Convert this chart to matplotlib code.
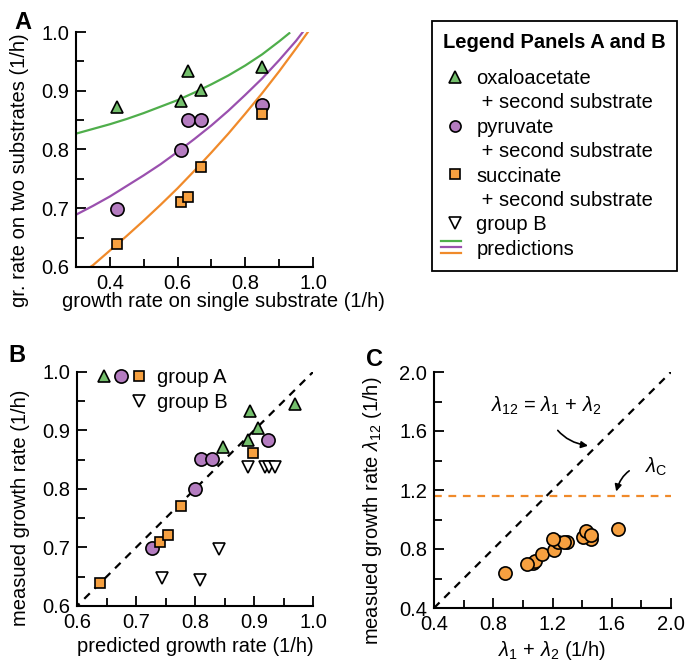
import matplotlib
matplotlib.use("Agg")
from matplotlib import pyplot as plt
from matplotlib.lines import Line2D
from matplotlib.legend_handler import HandlerBase, HandlerTuple
from matplotlib.ticker import MultipleLocator

plt.rcParams['font.family'] = ['Liberation Sans', 'DejaVu Sans']
plt.rcParams['font.size'] = 14.5
plt.rcParams['mathtext.fontset'] = 'custom'
plt.rcParams['mathtext.rm'] = 'Liberation Sans'
plt.rcParams['mathtext.it'] = 'Liberation Sans:italic'
FS = 14.5

# ---- data ----
# panel A: growth on single substrate vs. on two substrates
single_rate = [0.42, 0.61, 0.63, 0.67, 0.85]
oxa_two = [0.872, 0.883, 0.933, 0.902, 0.941]
pyr_two = [0.699, 0.799, 0.850, 0.850, 0.876]
suc_two = [0.639, 0.710, 0.720, 0.770, 0.860]

# prediction curves (panel A)
oxa_curve_x = [0.30, 0.35, 0.40, 0.45, 0.50, 0.55, 0.60, 0.65, 0.70, 0.75, 0.80, 0.85, 0.90, 0.93]
oxa_curve_y = [0.827, 0.835, 0.843, 0.852, 0.862, 0.873, 0.884, 0.897, 0.911, 0.926, 0.943, 0.962, 0.984, 0.998]
pyr_curve_x = [0.30, 0.35, 0.40, 0.45, 0.50, 0.55, 0.60, 0.65, 0.70, 0.75, 0.80, 0.85, 0.90, 0.95, 0.97]
pyr_curve_y = [0.689, 0.704, 0.720, 0.738, 0.756, 0.775, 0.796, 0.818, 0.841, 0.866, 0.893, 0.921, 0.952, 0.985, 1.000]
suc_curve_x = [0.342, 0.35, 0.40, 0.45, 0.50, 0.55, 0.60, 0.65, 0.70, 0.75, 0.80, 0.85, 0.90, 0.95, 0.985]
suc_curve_y = [0.600, 0.603, 0.628, 0.653, 0.679, 0.706, 0.734, 0.764, 0.795, 0.827, 0.861, 0.896, 0.933, 0.972, 1.000]

# panel B: predicted vs measured
oxa_pred = [0.848, 0.889, 0.893, 0.906, 0.969]
oxa_meas = [0.872, 0.884, 0.934, 0.904, 0.945]
pyr_pred = [0.727, 0.800, 0.810, 0.828, 0.924]
pyr_meas = [0.699, 0.800, 0.852, 0.852, 0.884]
suc_pred = [0.639, 0.741, 0.754, 0.777, 0.898]
suc_meas = [0.639, 0.710, 0.721, 0.771, 0.862]
grpB_pred = [0.744, 0.808, 0.841, 0.890, 0.919, 0.926, 0.936]
grpB_meas = [0.648, 0.644, 0.697, 0.838, 0.838, 0.838, 0.838]

# panel C: sum of single rates vs measured
sum_rates = [0.880, 1.065, 1.085, 1.132, 1.300, 1.026, 1.211, 1.240, 1.280, 1.458,
             1.206, 1.404, 1.424, 1.458, 1.645]
meas_rates = [0.640, 0.707, 0.720, 0.769, 0.850, 0.696, 0.796, 0.850, 0.850, 0.870,
              0.866, 0.881, 0.922, 0.893, 0.938]
lambda_c = 1.16
diag = [0.4, 2.0]

# colours
g_fill, g_line = '#74bf6c', '#4fae4b'
p_fill, p_line = '#b47cc0', '#9a50ae'
o_fill, o_line = '#f6a040', '#f08a2a'


class ThreeLines(HandlerBase):
    def create_artists(self, legend, orig_handle, xdescent, ydescent,
                       width, height, fontsize, trans):
        arts = []
        for i, c in enumerate([g_line, p_line, o_line]):
            y = height * (0.95 - 0.4 * i) - ydescent
            arts.append(Line2D([-xdescent - 2, -xdescent + width * 0.75], [y, y],
                               color=c, lw=1.6, transform=trans))
        return arts


def style(ax):
    for s in ['top', 'right']:
        ax.spines[s].set_visible(False)
    for s in ['left', 'bottom']:
        ax.spines[s].set_linewidth(1.5)
    ax.tick_params(which='both', direction='in', width=1.3, labelsize=FS, pad=5)
    ax.tick_params(which='major', length=7)
    ax.tick_params(which='minor', length=6)


fig = plt.figure(figsize=(6.86, 6.69), dpi=100)
W, H = 686, 669
axA = fig.add_axes([76 / W, 1 - 267 / H, 237 / W, 235 / H])
axB = fig.add_axes([77 / W, 1 - 606 / H, 236 / W, 234 / H])
axC = fig.add_axes([434 / W, 1 - 608 / H, 237 / W, 236 / H])

mk = dict(mec='black', mew=1.2, ls='none')

# ---- panel A ----
axA.plot(oxa_curve_x, oxa_curve_y, color=g_line, lw=1.6)
axA.plot(pyr_curve_x, pyr_curve_y, color=p_line, lw=1.6)
axA.plot(suc_curve_x, suc_curve_y, color=o_line, lw=1.6)
axA.plot(single_rate, oxa_two, '^', mfc=g_fill, ms=9, **mk)
axA.plot(single_rate, pyr_two, 'o', mfc=p_fill, ms=9.5, **mk)
axA.plot(single_rate, suc_two, 's', mfc=o_fill, ms=7.5, **mk)
axA.set_xlim(0.3, 1.0)
axA.set_ylim(0.6, 1.0)
axA.xaxis.set_major_locator(MultipleLocator(0.2))
axA.xaxis.set_minor_locator(MultipleLocator(0.1))
axA.yaxis.set_major_locator(MultipleLocator(0.1))
axA.yaxis.set_minor_locator(MultipleLocator(0.05))
style(axA)
axA.set_xlabel('growth rate on single substrate (1/h)', fontsize=FS)
axA.xaxis.set_label_coords(0.62, -0.105)
axA.set_ylabel('gr. rate on two substrates (1/h)', fontsize=FS)
axA.yaxis.set_label_coords(-0.20, 0.41)

# ---- panel B ----
axB.plot(diag, diag, color='black', ls=(0, (3.5, 3)), lw=1.6)
tri = axB.plot(oxa_pred, oxa_meas, '^', mfc=g_fill, ms=9, **mk)[0]
circ = axB.plot(pyr_pred, pyr_meas, 'o', mfc=p_fill, ms=9.5, **mk)[0]
sq = axB.plot(suc_pred, suc_meas, 's', mfc=o_fill, ms=7.5, **mk)[0]
inv = axB.plot(grpB_pred, grpB_meas, 'v', mfc='white', ms=9, **mk)[0]
axB.set_xlim(0.6, 1.0)
axB.set_ylim(0.6, 1.0)
axB.xaxis.set_major_locator(MultipleLocator(0.1))
axB.xaxis.set_minor_locator(MultipleLocator(0.05))
axB.yaxis.set_major_locator(MultipleLocator(0.1))
axB.yaxis.set_minor_locator(MultipleLocator(0.05))
style(axB)
axB.set_xlabel('predicted growth rate (1/h)', fontsize=FS)
axB.set_ylabel('measued growth rate (1/h)', fontsize=FS)
axB.yaxis.set_label_coords(-0.20, 0.42)
blank = Line2D([], [], ls='none')
axB.legend([(tri, circ, sq), (blank, blank, inv)], ['group A', 'group B'],
           handler_map={tuple: HandlerTuple(ndivide=None, pad=0.05)},
           loc='upper left', bbox_to_anchor=(0.0, 1.095), frameon=False,
           handlelength=2.6, handletextpad=0.45, labelspacing=0.3, fontsize=FS)

# ---- panel C ----
axC.plot(diag, diag, color='black', ls=(0, (3.5, 3)), lw=1.6)
axC.axhline(lambda_c, color=o_line, ls=(0, (3.5, 3)), lw=1.6)
axC.plot(sum_rates, meas_rates, 'o', mfc=o_fill, ms=9.5, **mk)
axC.set_xlim(0.4, 2.0)
axC.set_ylim(0.4, 2.0)
axC.xaxis.set_major_locator(MultipleLocator(0.4))
axC.xaxis.set_minor_locator(MultipleLocator(0.2))
axC.yaxis.set_major_locator(MultipleLocator(0.4))
axC.yaxis.set_minor_locator(MultipleLocator(0.2))
style(axC)
axC.set_xlabel(r'$\lambda_1$ + $\lambda_2$ (1/h)', fontsize=FS)
axC.set_ylabel(r'measued growth rate $\lambda_{12}$ (1/h)', fontsize=FS)
axC.yaxis.set_label_coords(-0.21, 0.41)
axC.annotate(r'$\lambda_{12}$ = $\lambda_1$ + $\lambda_2$', xy=(1.44, 1.50), xytext=(1.16, 1.77),
             ha='center', va='center', fontsize=FS,
             arrowprops=dict(arrowstyle='-|>', color='black', lw=1.2,
                             shrinkA=9, shrinkB=0, mutation_scale=10,
                             connectionstyle='arc3,rad=0.35'))
axC.annotate(r'$\lambda_\mathrm{C}$', xy=(1.63, 1.19), xytext=(1.90, 1.36),
             ha='center', va='center', fontsize=FS,
             arrowprops=dict(arrowstyle='-|>', color='black', lw=1.2,
                             shrinkA=10, shrinkB=0, mutation_scale=10,
                             connectionstyle='arc3,rad=0.45'))

# ---- shared legend ----
h_oxa = Line2D([], [], marker='^', mfc=g_fill, ms=8, **mk)
h_pyr = Line2D([], [], marker='o', mfc=p_fill, ms=8, **mk)
h_suc = Line2D([], [], marker='s', mfc=o_fill, ms=7, **mk)
h_grpB = Line2D([], [], marker='v', mfc='white', ms=8, **mk)
h_pred = object()
handles = [h_oxa, blank, h_pyr, blank, h_suc, blank, h_grpB, h_pred]
labels = ['oxaloacetate', ' + second substrate', 'pyruvate', ' + second substrate',
          'succinate', ' + second substrate', 'group B', 'predictions']
leg = fig.legend(handles, labels, handler_map={object: ThreeLines()},
                 loc='upper left', bbox_to_anchor=(432 / W, 1 - 21 / H - 0.01, 245 / W, 0.01),
                 mode='expand', borderaxespad=0, fancybox=False, edgecolor='black',
                 framealpha=1, fontsize=FS, title='Legend Panels A and B',
                 title_fontproperties={'weight': 'bold', 'size': FS},
                 handlelength=1.1, handletextpad=0.5, labelspacing=0.27, borderpad=0.6)
leg.get_frame().set_linewidth(1.3)
leg._legend_box.sep = 12  # extra room under the legend title

# panel letters
fig.text(14 / W, 1 - 29 / H, 'A', fontsize=17, fontweight='bold')
fig.text(8 / W, 1 - 362 / H, 'B', fontsize=17, fontweight='bold')
fig.text(366 / W, 1 - 366 / H, 'C', fontsize=17, fontweight='bold')

fig.savefig('out.png', dpi=100)
